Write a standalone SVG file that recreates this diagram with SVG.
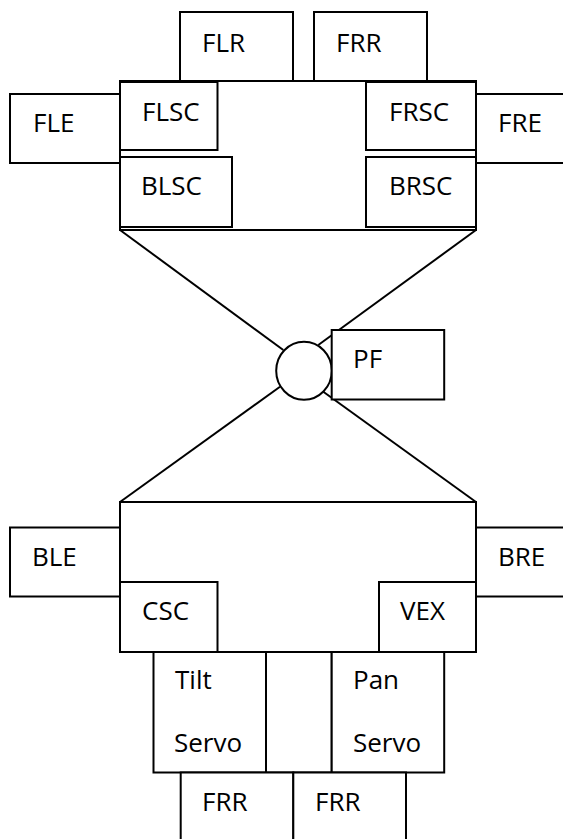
<svg xmlns="http://www.w3.org/2000/svg" width="563" height="839" viewBox="0 0 563 839">
  <style>
    .box { fill: #ffffff; stroke: #000000; stroke-width: 2; }
    .frame { fill: none; stroke: #000000; stroke-width: 2; }
    .link { fill: none; stroke: #000000; stroke-width: 2; }
    .lbl { font-family: "Open Sans", "Noto Sans", sans-serif; font-size: 26px; fill: #000000; }
  </style>
  <rect width="563" height="839" fill="#ffffff"/>

  <!-- struts joining the two chassis frames through the pivot -->
  <g id="connectors">
    <line class="link" x1="120" y1="230" x2="283.3" y2="350"/>
    <line class="link" x1="476" y1="230" x2="318.3" y2="345"/>
    <line class="link" x1="120" y1="502" x2="280" y2="386.7"/>
    <line class="link" x1="476" y1="502" x2="323.3" y2="391.7"/>
  </g>

  <!-- front section -->
  <g id="flr"><rect class="box" x="180" y="12" width="113" height="69"/><text class="lbl" x="202" y="52">FLR</text></g>
  <g id="frr-top"><rect class="box" x="314" y="12" width="113" height="69"/><text class="lbl" x="336" y="52">FRR</text></g>
  <g id="fle"><rect class="box" x="10" y="94" width="110" height="69"/><text class="lbl" x="33" y="132">FLE</text></g>
  <g id="fre"><rect class="box" x="476" y="94" width="100" height="69"/><text class="lbl" x="498" y="132">FRE</text></g>
  <g id="front-frame"><rect class="frame" x="120" y="81" width="356" height="149"/></g>
  <g id="flsc"><rect class="box" x="120" y="82" width="97.5" height="68"/><text class="lbl" x="142" y="121">FLSC</text></g>
  <g id="blsc"><rect class="box" x="120" y="157" width="112" height="70"/><text class="lbl" x="141" y="195">BLSC</text></g>
  <g id="frsc"><rect class="box" x="366" y="82" width="110" height="68"/><text class="lbl" x="389" y="121">FRSC</text></g>
  <g id="brsc"><rect class="box" x="366" y="157" width="110" height="70"/><text class="lbl" x="389" y="195">BRSC</text></g>

  <!-- pivot -->
  <g id="pivot"><ellipse class="box" cx="304" cy="370.8" rx="27.8" ry="29"/></g>
  <g id="pf"><rect class="box" x="331.7" y="330" width="112.5" height="69.5"/><text class="lbl" x="353" y="368">PF</text></g>

  <!-- back section -->
  <g id="ble"><rect class="box" x="10" y="527.5" width="110" height="69"/><text class="lbl" x="32" y="566">BLE</text></g>
  <g id="bre"><rect class="box" x="476" y="527.5" width="100" height="69"/><text class="lbl" x="498" y="566">BRE</text></g>
  <g id="back-frame"><rect class="frame" x="120" y="502" width="356" height="150"/></g>
  <g id="csc"><rect class="box" x="120" y="582" width="97.5" height="70"/><text class="lbl" x="142" y="620">CSC</text></g>
  <g id="vex"><rect class="box" x="379" y="582" width="97" height="70"/><text class="lbl" x="400" y="620">VEX</text></g>

  <!-- servo mounts -->
  <g id="tilt-servo"><rect class="box" x="153.5" y="652" width="112.5" height="120.5"/><text class="lbl" x="175" y="689">Tilt</text><text class="lbl" x="174" y="752">Servo</text></g>
  <g id="servo-gap"><rect class="box" x="266" y="652" width="65.7" height="120.5"/></g>
  <g id="pan-servo"><rect class="box" x="331.7" y="652" width="112.5" height="120.5"/><text class="lbl" x="353" y="689">Pan</text><text class="lbl" x="353" y="752">Servo</text></g>

  <!-- rear rollers -->
  <g id="frr-left"><rect class="box" x="180.7" y="772.5" width="112.6" height="80"/><text class="lbl" x="202" y="811">FRR</text></g>
  <g id="frr-right"><rect class="box" x="293.3" y="772.5" width="112.7" height="80"/><text class="lbl" x="315" y="811">FRR</text></g>
</svg>
